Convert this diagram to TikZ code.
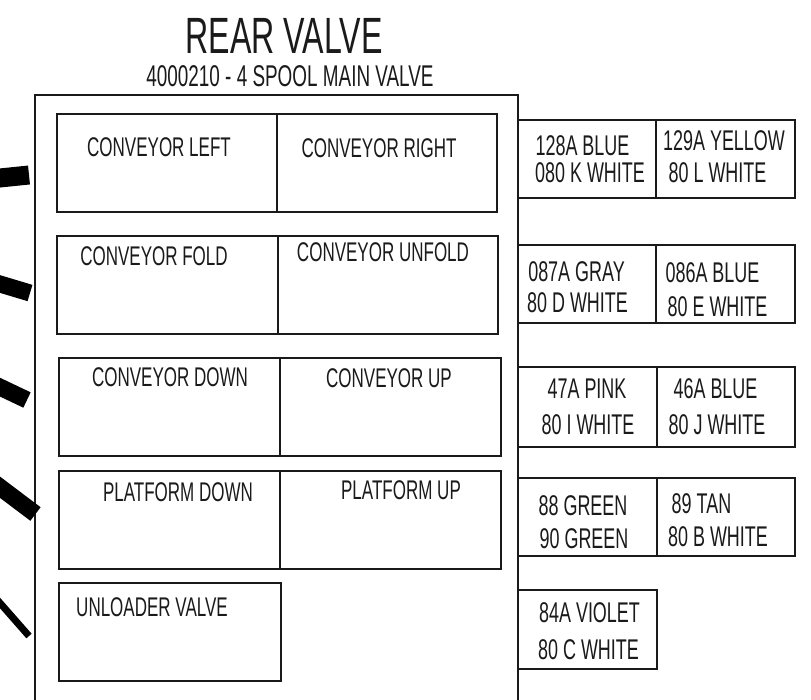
\documentclass[tikz,border=0pt]{standalone}
\usepackage{fontspec}
\setmainfont{Liberation Sans}[FakeStretch=0.63]
\usepackage{xcolor}
\usetikzlibrary{positioning}
\definecolor{rvLine}{RGB}{26,26,26}
\newcommand{\fsz}[1]{\fontsize{#1}{#1}\selectfont}

\begin{document}
\begin{tikzpicture}[
  x=1pt, y=-1pt,
  font=\fsz{27},
  node distance=0pt,
  valve/.style={draw=rvLine, line width=1.8pt, outer sep=0pt, inner sep=0pt,
                minimum width=220pt, minimum height=98pt},
  plug/.style={draw=rvLine, line width=1.8pt, outer sep=0pt, inner sep=0pt,
               minimum width=138pt, minimum height=78pt},
  lbl/.style={inner sep=0pt, text=rvLine},
  wire/.style={draw=black, line width=17pt}
]
\useasboundingbox (0,0) rectangle (811,699);
\clip (0,0) rectangle (811,699);

\node[lbl, font=\fsz{51}] (title) at (284,36) {REAR VALVE};
\node[lbl, font=\fsz{30}] (sub) at (290,76.5) {4000210 - 4 SPOOL MAIN VALVE};

% valve body, open at the bottom
\draw[rvLine, line width=1.8pt] (35,720) |- (518,95) -- (518,720);

% spool sections
\node[valve, anchor=north west] (s1l) at (57,114) {};
\node[valve, right=of s1l] (s1r) {};
\node[valve, anchor=north west, minimum width=221pt] (s2l) at (57,236) {};
\node[valve, right=of s2l] (s2r) {};
\node[valve, anchor=north west, minimum width=221pt] (s3l) at (59,358) {};
\node[valve, right=of s3l, minimum width=221pt] (s3r) {};
\node[valve, anchor=north west, minimum width=221pt] (s4l) at (59,471) {};
\node[valve, right=of s4l, minimum width=221pt] (s4r) {};
\node[valve, anchor=north west, minimum width=222pt] (s5) at (59,583) {};

\node[lbl] (t1l) at (159,147) {CONVEYOR LEFT};
\node[lbl] (t1r) at (379,148) {CONVEYOR RIGHT};
\node[lbl] (t2l) at (154,256) {CONVEYOR FOLD};
\node[lbl] (t2r) at (383,252) {CONVEYOR UNFOLD};
\node[lbl] (t3l) at (170,377) {CONVEYOR DOWN};
\node[lbl] (t3r) at (389,378) {CONVEYOR UP};
\node[lbl] (t4l) at (178,492) {PLATFORM DOWN};
\node[lbl] (t4r) at (401,490) {PLATFORM UP};
\node[lbl] (t5) at (152,607) {UNLOADER VALVE};

% wire terminals
\node[plug, anchor=north west] (p1l) at (518,120) {};
\node[plug, right=of p1l, minimum width=139pt] (p1r) {};
\node[plug, anchor=north west] (p2l) at (518,245) {};
\node[plug, right=of p2l, minimum width=139pt] (p2r) {};
\node[plug, anchor=north west, minimum width=139pt, minimum height=80pt] (p3l) at (518,367) {};
\node[plug, right=of p3l, minimum height=80pt] (p3r) {};
\node[plug, anchor=north west, minimum width=139pt] (p4l) at (518,478) {};
\node[plug, right=of p4l] (p4r) {};
\node[plug, anchor=north west, minimum width=139pt, minimum height=79pt] (p5) at (518,590) {};

\foreach \n/\x/\y/\t in {
    a1/582.5/145.5/128A BLUE, a2/590/173/080 K WHITE,
    b1/724/141/129A YELLOW, b2/717.5/173/80 L WHITE,
    c1/576.5/272/087A GRAY, c2/577.5/303/80 D WHITE,
    d1/712.5/273/086A BLUE, d2/717.5/307/80 E WHITE,
    e1/587/389/47A PINK, e2/588/425/80 I WHITE,
    f1/715.5/389/46A BLUE, f2/717/425/80 J WHITE,
    g1/583/506/88 GREEN, g2/584/538.5/90 GREEN,
    h1/701.5/504/89 TAN, h2/718/537/80 B WHITE,
    i1/589.5/613/84A VIOLET, i2/588.5/650/80 C WHITE}
  \node[lbl, font=\fsz{28.5}] (w\n) at (\x,\y) {\t};

% cut hoses on the left
\draw[wire, line width=19pt] (-10,179) -- (29,175);
\draw[wire] (-10,281) -- (30,293);
\draw[wire] (-10,382.4) -- (27,400);
\draw[wire] (-10,479.7) -- (35.5,514);
\draw[wire, line width=7pt] (-10,591.6) -- (29,636);

\end{tikzpicture}
\end{document}
